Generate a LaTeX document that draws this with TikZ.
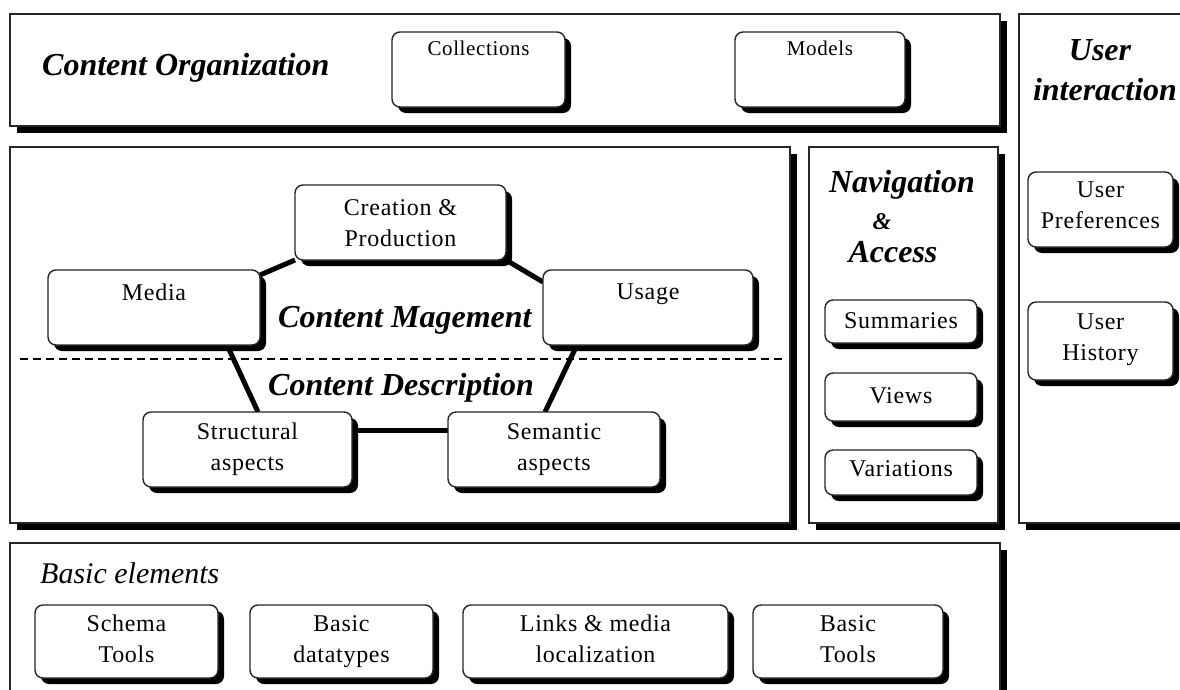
\documentclass[tikz,border=0pt]{standalone}
\usepackage{fontspec}
\setmainfont{Liberation Serif}
\newfontfamily\lblfont{Liberation Serif}[LetterSpace=3.0]
\usetikzlibrary{shadows,calc}
\pgfdeclarelayer{frames}
\pgfdeclarelayer{links}
\pgfsetlayers{frames,links,main}

\tikzset{
  frame/.style={rectangle, draw=black!85, line width=1.4pt, fill=white,
    inner sep=0pt, outer sep=0pt, anchor=north west,
    drop shadow={shadow xshift=7pt, shadow yshift=-7pt, opacity=1, fill=black}},
  rbox/.style={rectangle, rounded corners=8pt, draw=black!85, line width=1.4pt,
    fill=white, inner sep=0pt, outer sep=0pt, anchor=north west,
    drop shadow={shadow xshift=6pt, shadow yshift=-6pt, opacity=1, fill=black}},
  boxtext/.style={anchor=north, align=center, inner sep=0pt,
    font=\lblfont\fontsize{24}{31}\selectfont},
  smalltext/.style={boxtext, font=\lblfont\fontsize{21}{26}\selectfont},
  title/.style={inner sep=0pt, font=\fontsize{32}{38}\selectfont\bfseries\itshape},
  subtitle/.style={inner sep=0pt, font=\fontsize{30}{36}\selectfont\itshape},
  link/.style={line width=5pt},
  divider/.style={line width=1.5pt, dash pattern=on 8pt off 5pt},
}

\begin{document}
\begin{tikzpicture}[x=1pt, y=-1pt]
  \useasboundingbox (0,0) rectangle (1180,689);
  \clip (0,0) rectangle (1180,689);

  % outer frames
  \begin{pgfonlayer}{frames}
    \fill[white] (0,0) rectangle (1180,689);
    \node[frame, minimum width=990pt, minimum height=112pt] (org)  at (10,14)   {};
    \node[frame, minimum width=180pt, minimum height=509pt] (uint) at (1019,14) {};
    \node[frame, minimum width=780pt, minimum height=376pt] (mgmt) at (10,147)  {};
    \node[frame, minimum width=189pt, minimum height=376pt] (nav)  at (809,147) {};
    \node[frame, minimum width=990pt, minimum height=170pt] (basic) at (10,543) {};
  \end{pgfonlayer}

  % frame titles
  \node[title, anchor=base west] (org-t) at (42,75) {Content Organization};
  \node[title, anchor=base] (uint-t1) at (1100,60) {User};
  \node[title, anchor=base] (uint-t2) at (1105,100) {interaction};
  \node[title, anchor=base] (nav-t1) at (902,192) {Navigation};
  \node[title, anchor=base, font=\fontsize{24}{28}\selectfont\bfseries\itshape] (nav-t2) at (882,229) {\&};
  \node[title, anchor=base] (nav-t3) at (893,262) {Access};
  \node[title, anchor=base west] (mgmt-t) at (278,327) {Content Magement};
  \node[title, anchor=base west] (desc-t) at (268,395) {Content Description};
  \node[subtitle, anchor=base west] (basic-t) at (40,583) {Basic elements};

  % content organization
  \node[rbox, minimum width=173pt, minimum height=75pt] (coll)   at (392,32) {};
  \node[rbox, minimum width=170pt, minimum height=75pt] (models) at (735,32) {};

  % content management and description
  \node[rbox, minimum width=211pt, minimum height=75pt] (creat)  at (295,185) {};
  \node[rbox, minimum width=212pt, minimum height=75pt] (media)  at (48,270)  {};
  \node[rbox, minimum width=210pt, minimum height=75pt] (usage)  at (543,270) {};
  \node[rbox, minimum width=209pt, minimum height=75pt] (struct) at (143,412) {};
  \node[rbox, minimum width=212pt, minimum height=75pt] (sem)    at (448,412) {};

  % navigation and access
  \node[rbox, minimum width=152pt, minimum height=43pt] (summ)  at (825,300) {};
  \node[rbox, minimum width=152pt, minimum height=48pt] (views) at (825,373) {};
  \node[rbox, minimum width=152pt, minimum height=45pt] (var)   at (825,450) {};

  % user interaction
  \node[rbox, minimum width=145pt, minimum height=75pt] (upref) at (1028,172) {};
  \node[rbox, minimum width=145pt, minimum height=78pt] (uhist) at (1028,302) {};

  % basic elements
  \node[rbox, minimum width=183pt, minimum height=73pt] (schema) at (35,605)  {};
  \node[rbox, minimum width=183pt, minimum height=73pt] (datat)  at (250,605) {};
  \node[rbox, minimum width=265pt, minimum height=73pt] (links)  at (463,605) {};
  \node[rbox, minimum width=190pt, minimum height=73pt] (btools) at (753,605) {};

  % connectors and divider
  \begin{pgfonlayer}{links}
    \draw[link] ($(media.north east)+(0,5)$) -- (creat.south west);
    \draw[link] (creat.south east) -- ($(usage.north west)+(0,12)$);
    \draw[link] ($(media.south east)+(-33,0)$) -- ($(struct.north west)+(115,0)$);
    \draw[link] ($(usage.south west)+(34,0)$) -- ($(sem.north west)+(97,0)$);
    \draw[link] ($(struct.north east)+(0,18)$) -- ($(sem.north west)+(0,18)$);
    \coordinate (dl) at (20,359);
    \coordinate (dr) at (782,359);
    \draw[divider] (dl) -- (dr);
  \end{pgfonlayer}

  % box labels
  \node[smalltext] (coll-t)   at ($(coll.north)+(0,9)$)   {Collections};
  \node[smalltext] (models-t) at ($(models.north)+(0,9)$) {Models};
  \node[boxtext] (creat-t)  at ($(creat.north)+(0,14)$)  {Creation \&\\Production};
  \node[boxtext] (media-t)  at ($(media.north)+(0,14)$)  {Media};
  \node[boxtext] (usage-t)  at ($(usage.north)+(0,14)$)  {Usage};
  \node[boxtext] (struct-t) at ($(struct.north)+(0,11)$) {Structural\\aspects};
  \node[boxtext] (sem-t)    at ($(sem.north)+(0,11)$)    {Semantic\\aspects};
  \node[boxtext] (summ-t)   at ($(summ.north)+(0,12)$)  {Summaries};
  \node[boxtext] (views-t)  at ($(views.north)+(0,14)$) {Views};
  \node[boxtext] (var-t)    at ($(var.north)+(0,10)$)   {Variations};
  \node[boxtext] (upref-t)  at ($(upref.north)+(0,10)$) {User\\Preferences};
  \node[boxtext] (uhist-t)  at ($(uhist.north)+(0,12)$) {User\\History};
  \node[boxtext] (schema-t) at ($(schema.north)+(0,10)$) {Schema\\Tools};
  \node[boxtext] (datat-t)  at ($(datat.north)+(0,10)$)  {Basic\\datatypes};
  \node[boxtext] (links-t)  at ($(links.north)+(0,10)$)  {Links \& media\\localization};
  \node[boxtext] (btools-t) at ($(btools.north)+(0,10)$) {Basic\\Tools};
\end{tikzpicture}
\end{document}
